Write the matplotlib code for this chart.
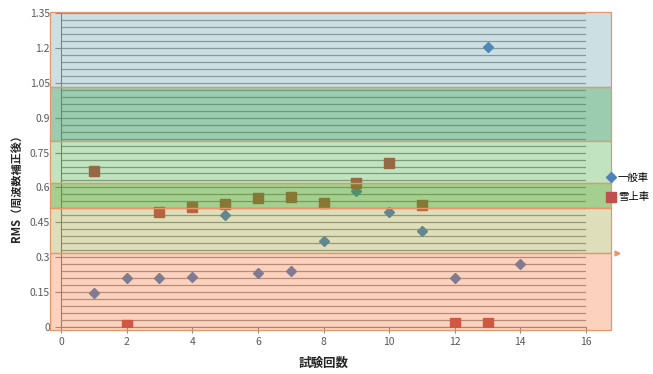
import numpy as np
import matplotlib.pyplot as plt
from matplotlib.patches import Rectangle
from matplotlib.colors import to_rgba

plt.rcParams['font.family'] = ['Noto Sans CJK JP', 'DejaVu Sans']

# test runs and RMS values (after frequency weighting)
runs_car = [1, 2, 3, 4, 5, 6, 7, 8, 9, 10, 11, 12, 13, 14]
rms_car = [0.145, 0.21, 0.21, 0.217, 0.482, 0.234, 0.242, 0.368, 0.583, 0.493, 0.413, 0.21, 1.202, 0.27]

runs_snow = [1, 2, 3, 4, 5, 6, 7, 8, 9, 10, 11, 12, 13]
rms_snow = [0.669, 0.01, 0.493, 0.515, 0.529, 0.556, 0.56, 0.533, 0.618, 0.706, 0.523, 0.018, 0.018]

series_names = ['一般車', '雪上車']
x_ticks = [0, 2, 4, 6, 8, 10, 12, 14, 16]
y_ticks = [0, 0.15, 0.3, 0.45, 0.6, 0.75, 0.9, 1.05, 1.2, 1.35]

# comfort zones drawn as translucent boxes over the chart
band_low = [-0.013, 0.318, 0.51, 0.62, 0.80, 1.03]
band_high = [0.318, 0.51, 0.62, 0.80, 1.03, 1.355]
band_color = ['#f86c2d', '#94981c', '#4da11f', '#34a52d', '#3b9b61', '#5898a2']
band_alpha = [0.3, 0.3, 0.5, 0.3, 0.5, 0.3]

fig = plt.figure(figsize=(6.53, 3.74), dpi=100)
ax = fig.add_axes([61 / 653, 47 / 374, 525 / 653, 314 / 374])

ax.set_xlim(0, 16)
ax.set_ylim(0, 1.35)
ax.set_xticks(x_ticks)
ax.set_yticks(y_ticks)
ax.set_yticklabels(['0', '0.15', '0.3', '0.45', '0.6', '0.75', '0.9', '1.05', '1.2', '1.35'])
ax.set_yticks(np.arange(0, 1.351, 0.03), minor=True)
ax.tick_params(axis='both', labelsize=7.5, labelcolor='#595959', color='#8c8c8c', length=4, width=0.8)
ax.tick_params(axis='y', which='major', pad=4)
ax.tick_params(axis='y', which='minor', length=0)
ax.grid(axis='y', which='both', color='#9a9a9a', lw=0.9)
ax.set_axisbelow(True)
for side in ['top', 'right']:
    ax.spines[side].set_visible(False)
ax.spines['left'].set_color('#7f7f7f')
ax.spines['bottom'].set_color('#8c8c8c')

ax.plot(runs_car, rms_car, ls='none', marker='D', ms=5.5, color='#4f81bd', label=series_names[0], zorder=3)
ax.plot(runs_snow, rms_snow, ls='none', marker='s', ms=6.5, color='#c0504d', label=series_names[1], zorder=3)

x_left, x_right = -0.335, 16.77
for lo, hi, c, a in zip(band_low, band_high, band_color, band_alpha):
    ax.add_patch(Rectangle((x_left, lo), x_right - x_left, hi - lo,
                           facecolor=to_rgba(c, a), edgecolor='#e8956a', lw=0.9,
                           clip_on=False, zorder=5))
ax.plot([16.93], [band_high[0]], marker='>', ms=3.5, color='#e8956a', clip_on=False, zorder=6)

ax.set_xlabel('試験回数', fontsize=9, fontweight='bold', color='#262626')
ax.xaxis.set_label_coords(0.5, -0.095)
ax.set_ylabel('RMS（周波数補正後）', fontsize=8, fontweight='bold', color='#262626')
ax.yaxis.set_label_coords(-0.072, 0.45)

ax.legend(loc='upper left', bbox_to_anchor=(607 / 653, 1 - 173 / 374), bbox_transform=fig.transFigure,
          frameon=False, fontsize=7.5, handlelength=0.8, handletextpad=0.25, labelspacing=0.9,
          borderpad=0, borderaxespad=0)

fig.savefig('out.png', dpi=100)
